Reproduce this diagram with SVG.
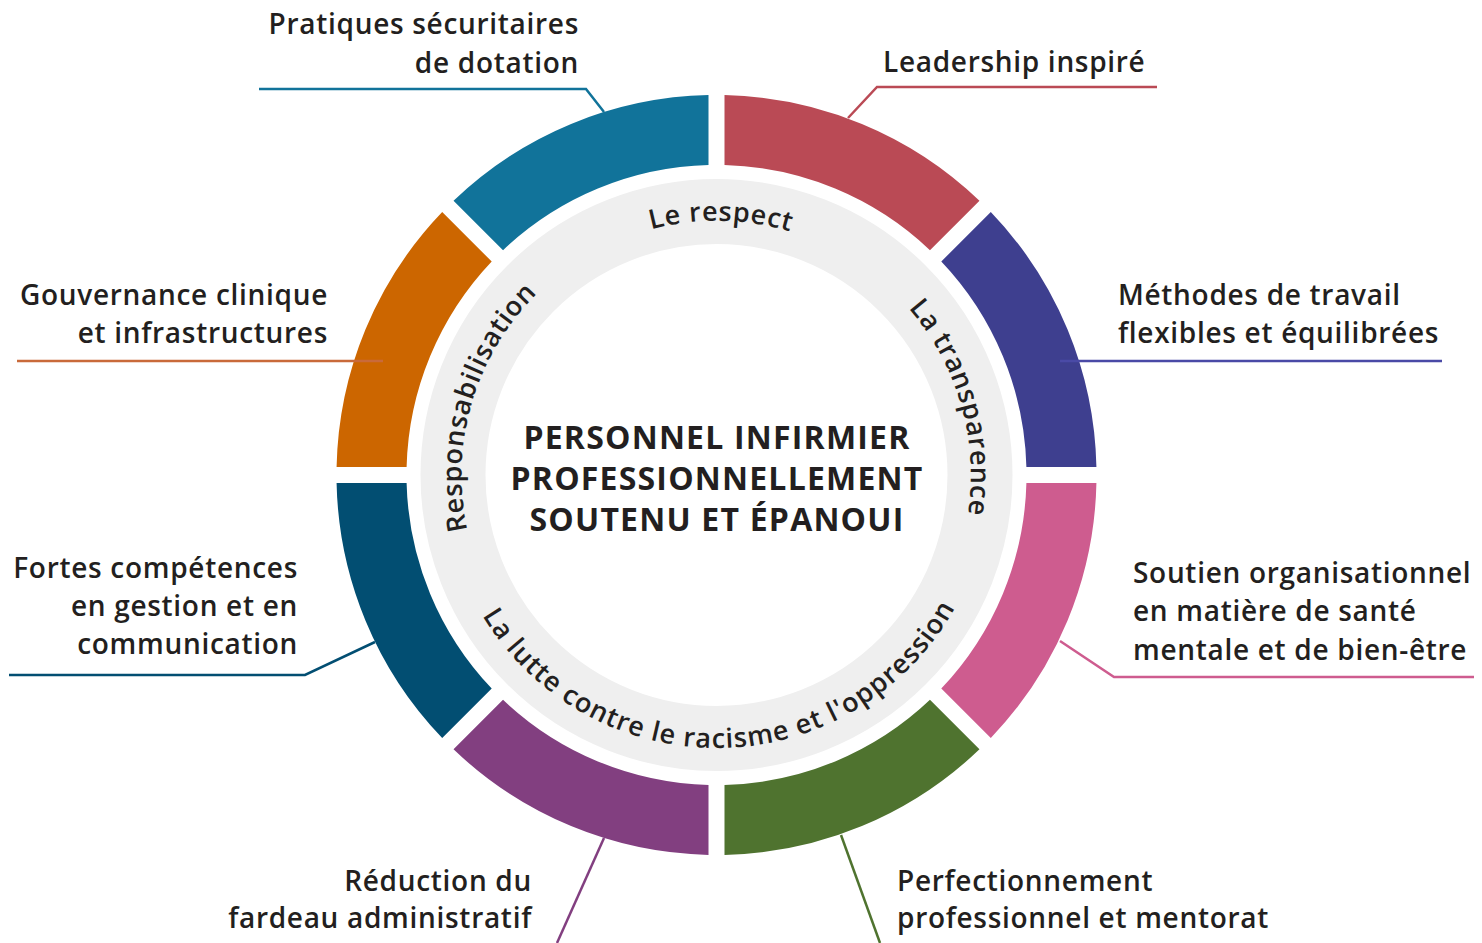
<svg xmlns="http://www.w3.org/2000/svg" width="1482" height="943" viewBox="0 0 1482 943">
<style>
.lbl{font-family:"Open Sans","Noto Sans",sans-serif;font-size:28px;font-weight:600;letter-spacing:0.7px;fill:#231f20}
.ring{font-family:"Open Sans","Noto Sans",sans-serif;font-size:27px;font-weight:600;letter-spacing:0.7px;fill:#231f20}
.title{font-family:"Open Sans","Noto Sans",sans-serif;font-size:32px;font-weight:700;letter-spacing:1.2px;fill:#231f20}
.con{fill:none;stroke-width:2.5}
.end{text-anchor:end}
</style>
<defs>
<path id="arcTop" d="M461.54,470.55 A255,255 0 0 1 971.46,479.45"/>
<path id="arcRight" d="M646.21,229.88 A255,255 0 0 1 786.79,720.12"/>
<path id="arcLeft" d="M644.07,719.50 A255,255 0 0 1 788.93,230.50"/>
<path id="arcBottom" d="M443.54,479.76 A273,273 0 0 0 989.46,470.24"/>
</defs>
<rect width="1482" height="943" fill="#ffffff"/>
<g id="values">
<circle cx="716.5" cy="475" r="263.5" fill="none" stroke="#efefef" stroke-width="65"/>
<text class="ring" text-anchor="middle"><textPath href="#arcTop" startOffset="50%">Le respect</textPath></text>
<text class="ring" text-anchor="middle"><textPath href="#arcRight" startOffset="50%">La transparence</textPath></text>
<text class="ring" text-anchor="middle"><textPath href="#arcLeft" startOffset="50%">Responsabilisation</textPath></text>
<text class="ring" text-anchor="middle" style="letter-spacing:1px"><textPath href="#arcBottom" startOffset="50%">La lutte contre le racisme et l'oppression</textPath></text>
</g>
<g id="center">
<text class="title" text-anchor="middle"><tspan x="717" y="449">PERSONNEL INFIRMIER</tspan><tspan x="717" y="490">PROFESSIONNELLEMENT</tspan><tspan x="717" y="531">SOUTENU ET ÉPANOUI</tspan></text>
</g>
<g id="seg-leadership">
<path d="M724.5,95.08 A380,380 0 0 1 979.48,200.70 L929.97,250.21 A310,310 0 0 0 724.5,165.10 Z" fill="#ba4a55"/>
<text class="lbl" x="883" y="72">Leadership inspiré</text>
</g>
<g id="seg-methodes">
<path d="M990.80,212.02 A380,380 0 0 1 1096.42,467 L1026.40,467 A310,310 0 0 0 941.29,261.53 Z" fill="#3e3f8f"/>
<text class="lbl"><tspan x="1118" y="305">Méthodes de travail</tspan><tspan x="1118" y="343">flexibles et équilibrées</tspan></text>
</g>
<g id="seg-soutien">
<path d="M1096.42,483 A380,380 0 0 1 990.80,737.98 L941.29,688.47 A310,310 0 0 0 1026.40,483 Z" fill="#ce5c8f"/>
<text class="lbl"><tspan x="1133" y="583">Soutien organisationnel</tspan><tspan x="1133" y="621">en matière de santé</tspan><tspan x="1133" y="660">mentale et de bien-être</tspan></text>
</g>
<g id="seg-perfectionnement">
<path d="M979.48,749.30 A380,380 0 0 1 724.5,854.92 L724.5,784.90 A310,310 0 0 0 929.97,699.79 Z" fill="#4f732f"/>
<text class="lbl"><tspan x="897" y="891">Perfectionnement</tspan><tspan x="897" y="928">professionnel et mentorat</tspan></text>
</g>
<g id="seg-reduction">
<path d="M708.5,854.92 A380,380 0 0 1 453.52,749.30 L503.03,699.79 A310,310 0 0 0 708.5,784.90 Z" fill="#823f80"/>
<text class="lbl end"><tspan x="532" y="891">Réduction du</tspan><tspan x="532" y="928">fardeau administratif</tspan></text>
</g>
<g id="seg-competences">
<path d="M442.20,737.98 A380,380 0 0 1 336.58,483 L406.60,483 A310,310 0 0 0 491.71,688.47 Z" fill="#024e72"/>
<text class="lbl end"><tspan x="298" y="578">Fortes compétences</tspan><tspan x="298" y="616">en gestion et en</tspan><tspan x="298" y="654">communication</tspan></text>
</g>
<g id="seg-gouvernance">
<path d="M336.58,467 A380,380 0 0 1 442.20,212.02 L491.71,261.53 A310,310 0 0 0 406.60,467 Z" fill="#cc6600"/>
<text class="lbl end"><tspan x="328" y="305">Gouvernance clinique</tspan><tspan x="328" y="343">et infrastructures</tspan></text>
</g>
<g id="seg-pratiques">
<path d="M453.52,200.70 A380,380 0 0 1 708.5,95.08 L708.5,165.10 A310,310 0 0 0 503.03,250.21 Z" fill="#11739a"/>
<text class="lbl end"><tspan x="579" y="34">Pratiques sécuritaires</tspan><tspan x="579" y="73">de dotation</tspan></text>
</g>
<g id="connectors">
<polyline class="con" points="259,89 586,89 604,112" stroke="#11739a"/>
<polyline class="con" points="1157,87 877,87 848,118" stroke="#ba4a55"/>
<polyline class="con" points="17,361 383,361" stroke="#c96a3a"/>
<polyline class="con" points="1060,361 1442,361" stroke="#4a4aa6"/>
<polyline class="con" points="9,675 305,675 375,642" stroke="#024e72"/>
<polyline class="con" points="1060,641 1114,677 1474,677" stroke="#ce5c8f"/>
<polyline class="con" points="604,838 557,943" stroke="#823f80"/>
<polyline class="con" points="841,835 880,943" stroke="#4f732f"/>
</g>
</svg>
